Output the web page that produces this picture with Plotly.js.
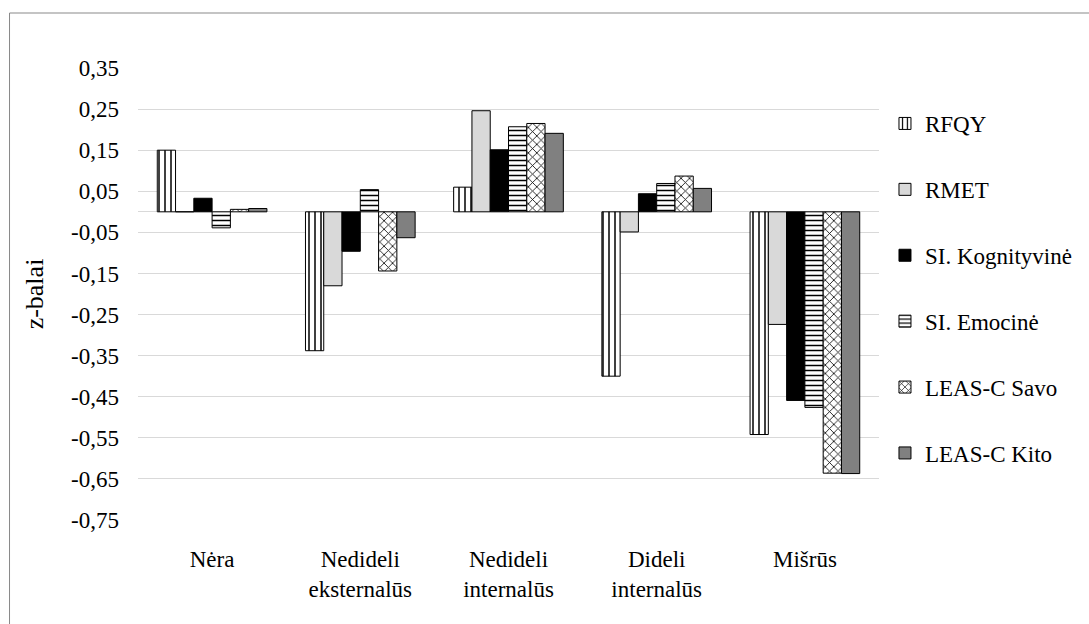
<!DOCTYPE html>
<html>
<head>
<meta charset="utf-8">
<script src="https://cdn.plot.ly/plotly-3.0.1.min.js"></script>
<style>html,body{margin:0;padding:0;background:#fff;}#chart{width:1089px;height:624px;}</style>
</head>
<body>
<div id="chart"></div>
<script>
const categories = ["Nėra", "Nedideli<br>eksternalūs", "Nedideli<br>internalūs", "Dideli<br>internalūs", "Mišrūs"];
const seriesNames = ["RFQY", "RMET", "SI. Kognityvinė", "SI. Emocinė", "LEAS-C Savo", "LEAS-C Kito"];
const rfqy = [0.150, -0.338, 0.060, -0.400, -0.542];
const rmet = [0.000, -0.180, 0.246, -0.049, -0.274];
const siKog = [0.033, -0.096, 0.151, 0.044, -0.459];
const siEmo = [-0.039, 0.054, 0.207, 0.069, -0.476];
const leasSavo = [0.006, -0.144, 0.215, 0.087, -0.636];
const leasKito = [0.008, -0.063, 0.191, 0.057, -0.637];
const tickVals = [0.35, 0.25, 0.15, 0.05, -0.05, -0.15, -0.25, -0.35, -0.45, -0.55, -0.65, -0.75];
const tickText = ["0,35", "0,25", "0,15", "0,05", "-0,05", "-0,15", "-0,25", "-0,35", "-0,45", "-0,55", "-0,65", "-0,75"];

const values = [rfqy, rmet, siKog, siEmo, leasSavo, leasKito];
const styles = [
  {color: "white", pattern: {shape: "|", size: 6, solidity: 0.25, fgcolor: "black", bgcolor: "white", fillmode: "replace"}},
  {color: "#d9d9d9"},
  {color: "black"},
  {color: "white", pattern: {shape: "-", size: 5, solidity: 0.3, fgcolor: "black", bgcolor: "white", fillmode: "replace"}},
  {color: "white", pattern: {shape: "x", size: 6, solidity: 0.25, fgcolor: "black", bgcolor: "white", fillmode: "replace"}},
  {color: "#808080"}
];

const traces = seriesNames.map((name, i) => ({
  type: "bar",
  name: name,
  x: categories,
  y: values[i],
  legendgroup: "g" + i,
  marker: Object.assign({line: {color: "black", width: 1}}, styles[i]),
  hoverinfo: "x+y+name"
}));

const L = 138, R = 207, T = 68, B = 104;
const PW = 1089 - L - R, PH = 624 - T - B;
const FONT = "Liberation Serif, Times New Roman, Times, serif";

const layout = {
  width: 1089, height: 624,
  margin: {l: L, r: R, t: T, b: B, pad: 0},
  paper_bgcolor: "white", plot_bgcolor: "white",
  font: {family: FONT, size: 23, color: "black"},
  barmode: "group",
  bargap: 0.26,
  bargroupgap: 0,
  showlegend: true,
  legend: {
    x: (888 - L) / PW, xanchor: "left",
    y: 1 - (102 - T) / PH, yanchor: "top",
    traceorder: "grouped",
    tracegroupgap: 33,
    font: {family: FONT, size: 23, color: "black"},
    bgcolor: "rgba(0,0,0,0)",
    itemclick: false
  },
  xaxis: {
    type: "category",
    showgrid: false, showline: false, zeroline: false,
    ticks: "", ticklabelstandoff: 23,
    tickfont: {family: FONT, size: 23, color: "black"}
  },
  yaxis: {
    range: [-0.75, 0.35],
    tickmode: "array",
    tickvals: tickVals,
    ticktext: tickText,
    showgrid: true, gridcolor: "#d9d9d9", gridwidth: 1,
    zeroline: true, zerolinecolor: "#d9d9d9", zerolinewidth: 1,
    showline: false, ticks: "",
    ticklabelstandoff: 18,
    tickfont: {family: FONT, size: 23, color: "black"},
    title: {text: "z-balai", font: {family: FONT, size: 26, color: "black"}, standoff: 19}
  },
  shapes: [{
    type: "rect", xref: "paper", yref: "paper",
    x0: (9 - L) / PW, x1: (1100 - L) / PW,
    y0: -0.4, y1: 1 + (T - 13) / PH,
    line: {color: "#898989", width: 1}, fillcolor: "rgba(0,0,0,0)", layer: "below"
  }]
};

Plotly.newPlot("chart", traces, layout, {staticPlot: true, displayModeBar: false});
</script>
</body>
</html>
